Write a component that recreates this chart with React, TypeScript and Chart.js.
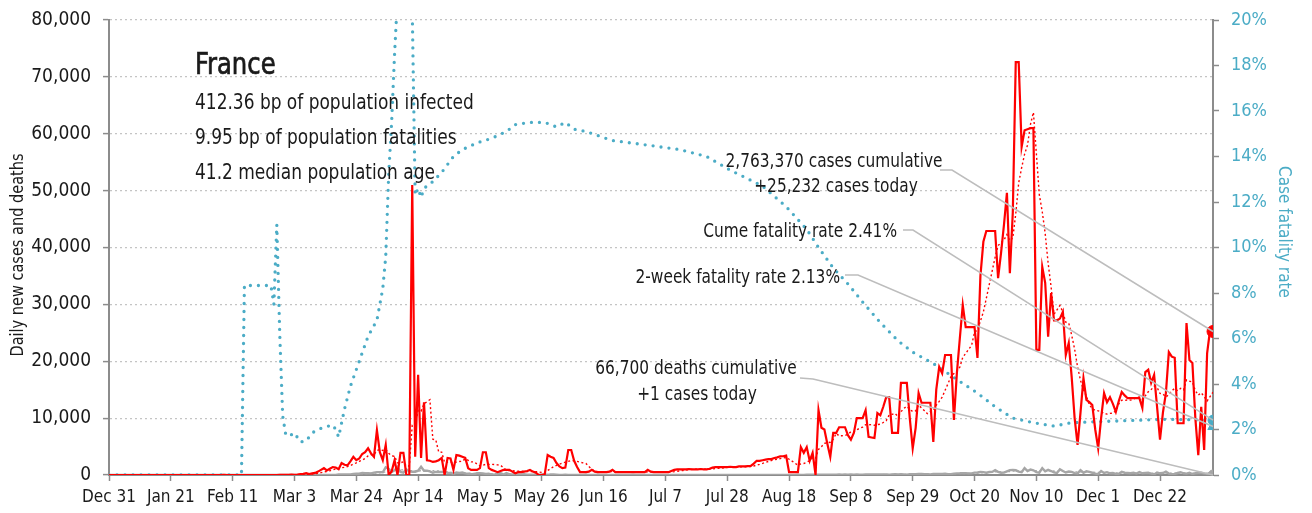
import { useEffect, useRef } from 'react';
import { Chart, registerables } from 'chart.js';

Chart.register(...registerables);

const FONT = '"Liberation Sans Narrow","DejaVu Sans Condensed","Roboto Condensed","Arial Narrow","Liberation Sans",sans-serif';
const RED = '#ff0000';
const BLUE = '#4bacc6';
const GRAY = '#a6a6a6';
const AXIS = '#8c8c8c';
const TEXT = '#1a1a1a';
const SQUEEZE = 0.9;

// Day index 0 = Dec 31, 2019
const xTickDays = [0, 21, 42, 63, 84, 105, 126, 147, 168, 189, 210, 231, 252, 273, 294, 315, 336, 357];
const xTickLabels = ['Dec 31', 'Jan 21', 'Feb 11', 'Mar 3', 'Mar 24', 'Apr 14', 'May 5', 'May 26', 'Jun 16', 'Jul 7', 'Jul 28', 'Aug 18', 'Sep 8', 'Sep 29', 'Oct 20', 'Nov 10', 'Dec 1', 'Dec 22'];
const lastDay = 375;

const dailyCases = [
  0, 0, 0, 0, 0, 0, 0, 0, 0, 0,
  0, 0, 0, 0, 0, 0, 0, 0, 0, 0,
  0, 0, 0, 0, 3, 0, 0, 0, 0, 0,
  1, 0, 0, 0, 0, 0, 0, 0, 0, 5,
  0, 0, 0, 0, 0, 0, 1, 0, 0, 0,
  0, 0, 0, 0, 0, 0, 2, 4, 20, 19,
  43, 30, 61, 21, 73, 138, 190, 336, 177, 286,
  372, 600, 900, 1200, 800, 1100, 1400, 1300, 1000, 2100,
  1800, 1700, 2400, 3200, 2600, 2900, 3700, 4000, 4700, 3800,
  3200, 7900, 4000, 2600, 5300, 0, 600, 2600, 0, 3900,
  3900, 0, 0, 51000, 3200, 17600, 3000, 12800, 2600, 2500,
  2300, 2400, 2600, 3000, 0, 3000, 2900, 900, 3500, 3400,
  3200, 3000, 1200, 900, 900, 900, 1200, 4000, 4000, 1200,
  900, 700, 500, 700, 900, 900, 900, 600, 300, 500,
  500, 600, 700, 900, 600, 400, 0, 0, 100, 3500,
  3200, 3000, 2100, 1500, 1200, 1300, 4400, 4400, 2500, 1400,
  500, 500, 500, 600, 900, 600, 500, 500, 500, 500,
  600, 900, 500, 500, 500, 500, 500, 500, 500, 500,
  500, 500, 500, 900, 600, 500, 500, 500, 500, 500,
  500, 700, 900, 1000, 1000, 1000, 1000, 1050, 1000, 1000,
  1000, 1050, 1000, 1000, 1100, 1300, 1400, 1400, 1400, 1400,
  1400, 1450, 1400, 1400, 1500, 1500, 1500, 1550, 1600, 2000,
  2500, 2500, 2600, 2700, 2800, 2800, 3000, 3100, 3300, 3300,
  3400, 500, 500, 500, 500, 4900, 3900, 4900, 2500, 3900,
  0, 11400, 8300, 8000, 5500, 3200, 7400, 7400, 8400, 8400,
  8400, 7000, 6200, 7400, 10000, 10000, 10000, 11400, 6700, 6600,
  6500, 10900, 10500, 12000, 13700, 13700, 7400, 7400, 7400, 16200,
  16200, 16200, 10000, 4700, 8300, 14400, 12700, 12700, 12700, 12700,
  5800, 15000, 19000, 17900, 21100, 21100, 21100, 9700, 17900, 24000,
  29900, 26000, 26000, 26000, 26000, 20600, 35000, 41000, 42900, 42900,
  42900, 42900, 34600, 39000, 44000, 49600, 35500, 46200, 72600, 72600,
  57700, 60600, 60800, 61000, 61000, 22000, 22000, 36600, 33800, 24300,
  32000, 27200, 27200, 27500, 28700, 21100, 23200, 17200, 10000, 5300,
  11000, 17000, 13200, 12800, 12300, 8000, 4700, 10000, 14400, 12800,
  13700, 12500, 11100, 13000, 14600, 14000, 13500, 13500, 13500, 13500,
  13500, 11800, 18100, 18500, 16200, 17600, 12000, 6200, 11000, 14400,
  21600, 20800, 20600, 9100, 9100, 9100, 26700, 20200, 19700, 10000,
  3500, 12000, 4400, 21400, 25500, 25232,
];

const dailyDeaths = [
  0, 0, 0, 0, 0, 0, 0, 0, 0, 0,
  0, 0, 0, 0, 0, 0, 0, 0, 0, 0,
  0, 0, 0, 0, 0, 0, 0, 0, 0, 0,
  0, 0, 0, 0, 0, 0, 0, 0, 0, 0,
  0, 0, 0, 0, 0, 0, 1, 0, 0, 0,
  0, 0, 0, 0, 0, 0, 0, 0, 0, 0,
  0, 0, 1, 1, 0, 2, 3, 2, 0, 11,
  6, 15, 15, 13, 18, 12, 21, 27, 89, 108,
  78, 112, 112, 186, 240, 231, 365, 299, 319, 292,
  418, 499, 509, 471, 1355, 1120, 518, 833, 1417, 541,
  412, 987, 635, 561, 574, 762, 1438, 753, 761, 642,
  395, 547, 531, 544, 516, 389, 369, 242, 437, 367,
  427, 289, 218, 166, 135, 306, 330, 278, 178, 243,
  80, 70, 263, 348, 83, 351, 104, 96, 35, 65,
  95, 131, 43, 70, 66, 65, 30, 79, 52, 31,
  107, 81, 44, 0, 0, 46, 30, 21, 27, 24,
  29, 25, 31, 12, 13, 9, 31, 29, 28, 24,
  9, 11, 13, 23, 6, 20, 14, 15, 35, 25,
  18, 5, 14, 17, 11, 13, 25, 15, 6, 14,
  7, 12, 13, 11, 14, 0, 10, 14, 17, 12,
  9, 6, 8, 7, 5, 15, 16, 10, 7, 10,
  14, 7, 9, 11, 12, 17, 12, 13, 20, 15,
  18, 17, 14, 9, 8, 13, 16, 20, 24, 15,
  25, 17, 20, 29, 35, 23, 17, 41, 40, 43,
  45, 52, 50, 33, 56, 45, 66, 65, 78, 73,
  80, 45, 96, 70, 80, 58, 74, 92, 86, 77,
  93, 90, 110, 98, 106, 52, 115, 120, 112, 135,
  98, 60, 130, 145, 160, 170, 180, 150, 145, 110,
  200, 180, 190, 200, 210, 160, 150, 250, 290, 300,
  330, 320, 260, 280, 420, 450, 520, 500, 410, 520,
  540, 850, 560, 400, 420, 650, 850, 900, 830, 600,
  500, 1220, 700, 950, 830, 500, 420, 1200, 650, 900,
  700, 450, 350, 1000, 700, 430, 600, 550, 320, 280,
  850, 400, 650, 550, 400, 250, 150, 700, 350, 500,
  300, 350, 200, 200, 550, 400, 350, 300, 400, 250,
  500, 300, 350, 400, 250, 100, 450, 300, 350, 600,
  250, 150, 200, 350, 500, 300, 250, 400, 150, 300,
  350, 400, 250, 200, 300, 1,
];

// Case fatality rate (%), read at these days
const cfrDays = [0, 45, 46, 55, 56, 57, 58, 59, 60, 61, 63, 65, 67, 69, 71, 73, 76, 77, 78, 80, 82, 85, 88, 91, 93, 94, 95, 96, 97, 98, 99, 100, 101, 102, 103, 104, 105, 106, 107, 108, 110, 113, 117, 120, 125, 130, 135, 138, 143, 148, 152, 155, 158, 162, 171, 183, 194, 203, 211, 222, 230, 237, 241, 246, 251, 256, 262, 268, 273, 280, 288, 295, 301, 307, 314, 321, 327, 337, 348, 359, 375];
const cfrValues = [0, 0, 8.33, 8.33, 7.5, 11, 6.2, 2.6, 1.8, 1.7, 1.85, 1.45, 1.5, 1.85, 2.0, 2.1, 2.2, 2.0, 1.67, 2.9, 3.9, 5.0, 6.1, 6.8, 8.2, 9.6, 13.2, 15.5, 18.5, 21, 24, 26, 25, 23, 20.5, 12.3, 12.6, 12.2, 12.6, 12.7, 12.9, 13.3, 14.0, 14.3, 14.6, 14.8, 15.1, 15.4, 15.5, 15.5, 15.3, 15.5, 15.2, 15.1, 14.7, 14.5, 14.3, 14.0, 13.4, 12.7, 11.8, 10.8, 10.0, 9.1, 8.4, 7.6, 6.7, 5.9, 5.4, 4.9, 4.2, 3.6, 3.0, 2.5, 2.3, 2.15, 2.3, 2.35, 2.4, 2.45, 2.41];

const casesToday = 25232;
const deathsToday = 1;
const cumeFatalityRate = 2.41;
const twoWeekFatalityRate = 2.13;

const titleLines = ['412.36 bp of population infected', '9.95 bp of population fatalities', '41.2 median population age'];

function movingAverage(values: number[], win: number) {
  return values.map((_, i) => {
    const from = Math.max(0, i - win + 1);
    let s = 0;
    for (let k = from; k <= i; k++) s += values[k];
    return s / (i - from + 1);
  });
}

function squeezedText(ctx: CanvasRenderingContext2D, text: string, x: number, y: number, align: CanvasTextAlign) {
  ctx.save();
  ctx.translate(x, y);
  ctx.scale(SQUEEZE, 1);
  ctx.textAlign = align;
  ctx.fillText(text, 0, 0);
  ctx.restore();
}

const annotationPlugin = {
  id: 'annotations',
  afterDatasetsDraw(chart: any) {
    const ctx = chart.ctx as CanvasRenderingContext2D;
    const sx = chart.scales.x;
    const sy = chart.scales.y;
    const sy1 = chart.scales.y1;
    const ex = sx.getPixelForValue(lastDay);
    const leaders = [
      { p: [[932, 162], [944, 162]], to: [ex, sy.getPixelForValue(casesToday)] },
      { p: [[895, 222], [905, 222]], to: [ex, sy1.getPixelForValue(cumeFatalityRate)] },
      { p: [[837, 267], [850, 267]], to: [ex, sy1.getPixelForValue(twoWeekFatalityRate)] },
      { p: [[792, 370], [805, 371]], to: [ex, sy.getPixelForValue(deathsToday)] },
    ];
    ctx.save();
    ctx.strokeStyle = '#bdbdbd';
    ctx.lineWidth = 1.5;
    leaders.forEach((l) => {
      ctx.beginPath();
      ctx.moveTo(l.p[0][0], l.p[0][1]);
      ctx.lineTo(l.p[1][0], l.p[1][1]);
      ctx.lineTo(l.to[0], l.to[1]);
      ctx.stroke();
    });
    ctx.fillStyle = TEXT;
    ctx.textBaseline = 'middle';
    ctx.font = `19px ${FONT}`;
    squeezedText(ctx, `${'2,763,370'} cases cumulative`, 826, 154, 'center');
    squeezedText(ctx, `+${casesToday.toLocaleString('en-US')} cases today`, 828, 179, 'center');
    squeezedText(ctx, '66,700 deaths cumulative', 688, 361, 'center');
    squeezedText(ctx, `+${deathsToday} cases today`, 689, 387, 'center');
    squeezedText(ctx, `Cume fatality rate ${cumeFatalityRate.toFixed(2)}%`, 889, 224, 'right');
    squeezedText(ctx, `2-week fatality rate ${twoWeekFatalityRate.toFixed(2)}%`, 832, 270, 'right');

    ctx.font = `30px ${FONT}`;
    ctx.strokeStyle = TEXT;
    ctx.lineWidth = 0.7;
    ctx.save();
    ctx.translate(187, 58);
    ctx.scale(SQUEEZE, 1);
    ctx.textAlign = 'left';
    ctx.fillText('France', 0, 0);
    ctx.strokeText('France', 0, 0);
    ctx.restore();
    ctx.font = `21px ${FONT}`;
    titleLines.forEach((t, i) => squeezedText(ctx, t, 187, 96 + i * 35, 'left'));

    ctx.font = `17px ${FONT}`;
    ctx.save();
    ctx.translate(11, 247);
    ctx.rotate(-Math.PI / 2);
    ctx.scale(SQUEEZE + 0.05, 1);
    ctx.textAlign = 'center';
    ctx.fillText('Daily new cases and deaths', 0, 0);
    ctx.restore();
    ctx.save();
    ctx.fillStyle = BLUE;
    ctx.translate(1275, 224);
    ctx.rotate(Math.PI / 2);
    ctx.textAlign = 'center';
    ctx.fillText('Case fatality rate', 0, 0);
    ctx.restore();
    ctx.restore();
  },
};

const fitVertical = (width: number) => (s: any) => {
  s.width = width;
  s.paddingTop = 12;
  s.paddingBottom = 0;
};

export default function App() {
  const ref = useRef<HTMLCanvasElement>(null);
  useEffect(() => {
    if (!ref.current) return;
    const casesAvg = movingAverage(dailyCases, 7);
    const deathsAvg = movingAverage(dailyDeaths, 7);
    const pts = (arr: number[]) => arr.map((v, i) => ({ x: i, y: v }));
    const chart = new Chart(ref.current, {
      type: 'line',
      data: {
        datasets: [
          { label: 'cases today', data: [{ x: lastDay, y: casesToday }], yAxisID: 'y', showLine: false, pointRadius: 6, pointBackgroundColor: RED, pointBorderColor: RED, order: 0 },
          { label: 'cume cfr', data: [{ x: lastDay, y: cumeFatalityRate }], yAxisID: 'y1', showLine: false, pointRadius: 5, pointBackgroundColor: BLUE, pointBorderColor: BLUE, order: 0 },
          { label: '2wk cfr', data: [{ x: lastDay, y: twoWeekFatalityRate }], yAxisID: 'y1', showLine: false, pointStyle: 'triangle', pointRadius: 6, pointBackgroundColor: BLUE, pointBorderColor: BLUE, order: 0 },
          { label: 'deaths today', data: [{ x: lastDay, y: deathsToday }], yAxisID: 'y', showLine: false, pointRadius: 5, pointBackgroundColor: GRAY, pointBorderColor: GRAY, order: 0 },
          { label: 'Daily cases', data: pts(dailyCases), yAxisID: 'y', borderColor: RED, borderWidth: 2.2, pointRadius: 0, order: 1 },
          { label: 'Cases avg', data: pts(casesAvg), yAxisID: 'y', borderColor: RED, borderWidth: 1.4, borderDash: [2, 2.5], pointRadius: 0, order: 2 },
          { label: 'CFR', data: cfrDays.map((d, i) => ({ x: d, y: cfrValues[i] })), yAxisID: 'y1', borderColor: BLUE, borderWidth: 3.3, borderDash: [0, 8], borderCapStyle: 'round', pointRadius: 0, order: 3 },
          { label: 'Daily deaths', data: pts(dailyDeaths), yAxisID: 'y', borderColor: GRAY, borderWidth: 2.4, pointRadius: 0, order: 4 },
          { label: 'Deaths avg', data: pts(deathsAvg), yAxisID: 'y', borderColor: GRAY, borderWidth: 1.2, borderDash: [2, 2.5], pointRadius: 0, order: 5 },
        ] as any,
      },
      options: {
        animation: false,
        responsive: false,
        layout: { padding: { top: 12, left: 0, right: 0, bottom: 0 } },
        plugins: { legend: { display: false }, tooltip: { enabled: false } },
        elements: { line: { tension: 0 } },
        scales: {
          x: {
            type: 'linear',
            min: 0,
            max: lastDay,
            afterBuildTicks: (s: any) => { s.ticks = xTickDays.map((v) => ({ value: v })); },
            afterFit: (s: any) => { s.height = 38; },
            ticks: {
              autoSkip: false,
              maxRotation: 0,
              padding: 6,
              color: TEXT,
              font: { family: FONT, size: 17 },
              callback: (v: any) => xTickLabels[xTickDays.indexOf(Number(v))] ?? '',
            },
            grid: { drawOnChartArea: false, drawTicks: true, tickLength: 6, tickColor: AXIS, tickWidth: 1.5 },
            border: { display: true, color: AXIS, width: 2 },
          },
          y: {
            position: 'left',
            min: 0,
            max: 80000,
            afterFit: fitVertical(101),
            ticks: {
              stepSize: 10000,
              padding: 12,
              color: TEXT,
              font: { family: FONT, size: 19 },
              callback: (v: any) => Number(v).toLocaleString('en-US'),
            },
            grid: { color: '#c4c4c4', lineWidth: 1.2, drawTicks: true, tickLength: 6, tickColor: AXIS, tickWidth: 1.5, tickBorderDash: [] },
            border: { display: true, color: AXIS, width: 2, dash: [2, 3] },
          },
          y1: {
            position: 'right',
            min: 0,
            max: 20,
            afterFit: fitVertical(91),
            ticks: {
              stepSize: 2,
              padding: 12,
              color: BLUE,
              font: { family: FONT, size: 18 },
              callback: (v: any) => `${v}%`,
            },
            grid: { drawOnChartArea: false, drawTicks: true, tickLength: 6, tickColor: AXIS, tickWidth: 1.5 },
            border: { display: true, color: AXIS, width: 2 },
          },
        },
      } as any,
      plugins: [annotationPlugin],
    });
    return () => chart.destroy();
  }, []);
  return (
    <div style={{ width: 1296, height: 505 }}>
      <canvas ref={ref} width={1296} height={505} style={{ width: 1296, height: 505 }} />
    </div>
  );
}
